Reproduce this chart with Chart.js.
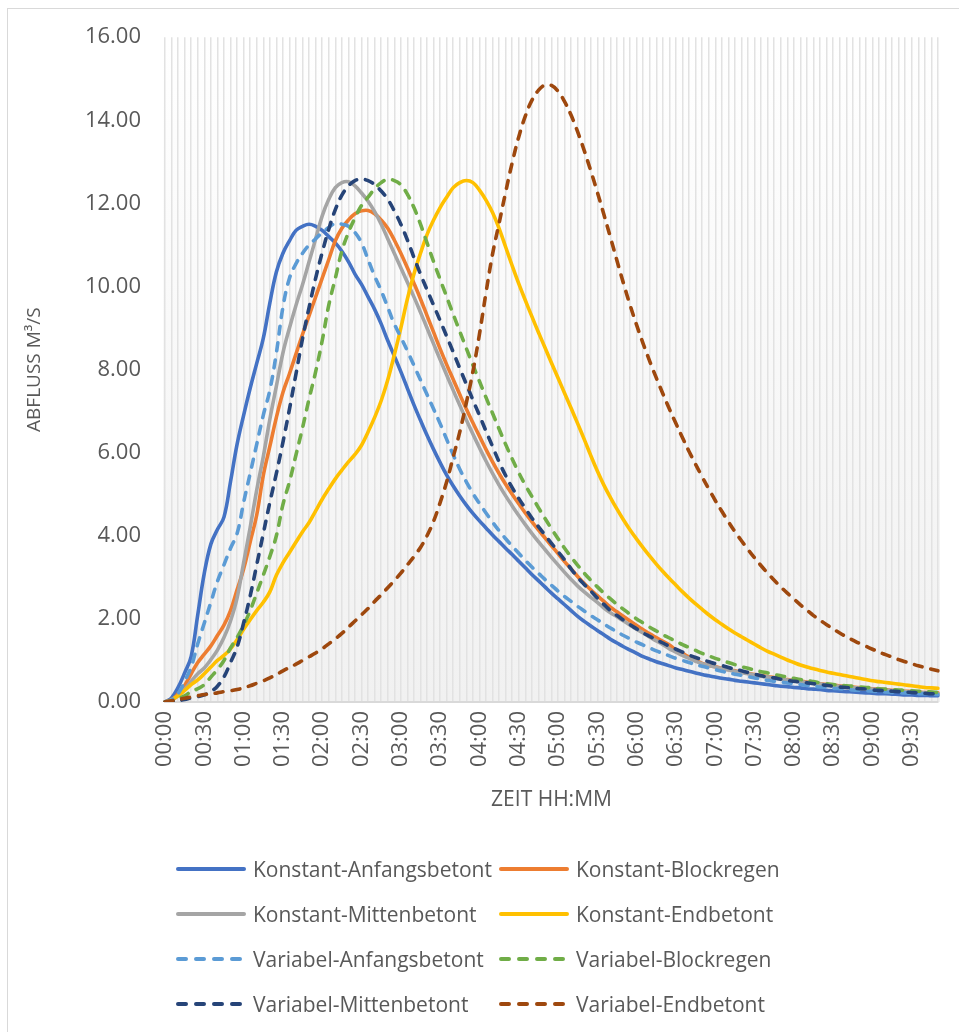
<!DOCTYPE html>
<html>
<head>
<meta charset="utf-8">
<script src="https://cdn.jsdelivr.net/npm/chart.js@4/dist/chart.umd.min.js"></script>
<style>
  html, body { margin:0; padding:0; background:#fff; overflow:hidden; }
  #wrap { position:relative; width:959px; height:1032px; }
  #frame { position:absolute; left:7px; top:8px; width:1000px; height:1100px; border:1px solid #d9d9d9; box-sizing:border-box; pointer-events:none; }
  canvas { position:absolute; left:0; top:0; }
  .lg { position:absolute; height:30px; line-height:30px; font-family:"Open Sans", sans-serif; font-size:21px; color:#595959; white-space:nowrap; }
  .lg svg { position:absolute; top:11px; }
</style>
</head>
<body>
<div id="wrap">
  <div id="frame"></div>
  <canvas id="c" width="959" height="1032"></canvas>
  <div id="legend"></div>
</div>
<script>
const categories = [
"00:00","00:05","00:10","00:15","00:20","00:25","00:30","00:35","00:40","00:45","00:50","00:55",
"01:00","01:05","01:10","01:15","01:20","01:25","01:30","01:35","01:40","01:45","01:50","01:55",
"02:00","02:05","02:10","02:15","02:20","02:25","02:30","02:35","02:40","02:45","02:50","02:55",
"03:00","03:05","03:10","03:15","03:20","03:25","03:30","03:35","03:40","03:45","03:50","03:55",
"04:00","04:05","04:10","04:15","04:20","04:25","04:30","04:35","04:40","04:45","04:50","04:55",
"05:00","05:05","05:10","05:15","05:20","05:25","05:30","05:35","05:40","05:45","05:50","05:55",
"06:00","06:05","06:10","06:15","06:20","06:25","06:30","06:35","06:40","06:45","06:50","06:55",
"07:00","07:05","07:10","07:15","07:20","07:25","07:30","07:35","07:40","07:45","07:50","07:55",
"08:00","08:05","08:10","08:15","08:20","08:25","08:30","08:35","08:40","08:45","08:50","08:55",
"09:00","09:05","09:10","09:15","09:20","09:25","09:30","09:35","09:40","09:45","09:50"];

const tickLabels = ["00:00","00:30","01:00","01:30","02:00","02:30","03:00","03:30","04:00","04:30",
"05:00","05:30","06:00","06:30","07:00","07:30","08:00","08:30","09:00","09:30"];

const konstantAnfang = [
0,0.1,0.35,0.7,1.1,2.1,3.1,3.8,4.15,4.45,
5.3,6.2,6.9,7.55,8.15,8.75,9.6,10.35,10.8,11.1,
11.35,11.45,11.5,11.45,11.35,11.2,11.05,10.85,10.6,10.3,
10.05,9.75,9.45,9.1,8.7,8.33,7.95,7.55,7.15,6.78,
6.42,6.08,5.76,5.46,5.2,4.96,4.74,4.54,4.36,4.19,
4.02,3.86,3.7,3.55,3.39,3.23,3.07,2.92,2.77,2.62,
2.48,2.34,2.2,2.06,1.94,1.83,1.72,1.62,1.51,1.42,
1.33,1.25,1.17,1.09,1.03,0.97,0.92,0.87,0.82,0.78,
0.74,0.7,0.66,0.63,0.6,0.57,0.55,0.52,0.5,0.48,
0.46,0.44,0.42,0.4,0.38,0.37,0.35,0.34,0.32,0.31,
0.3,0.28,0.27,0.26,0.25,0.24,0.23,0.22,0.21,0.2,
0.2,0.19,0.18,0.17,0.17,0.16,0.16,0.15,0.15];

const konstantBlock = [
0,0.05,0.2,0.4,0.68,0.95,1.15,1.35,1.6,1.85,
2.2,2.7,3.2,3.85,4.5,5.45,6.15,6.85,7.45,7.9,
8.38,8.85,9.3,9.75,10.2,10.65,11.1,11.4,11.6,11.75,
11.82,11.83,11.75,11.6,11.4,11.12,10.8,10.45,10.08,9.7,
9.3,8.9,8.5,8.12,7.76,7.4,7.05,6.72,6.4,6.08,
5.78,5.5,5.24,5.0,4.77,4.55,4.34,4.14,3.95,3.76,
3.57,3.38,3.2,3.02,2.85,2.7,2.56,2.42,2.28,2.17,
2.06,1.95,1.84,1.74,1.64,1.55,1.46,1.37,1.25,1.17,
1.08,1.0,0.93,0.88,0.85,0.81,0.78,0.75,0.72,0.69,
0.66,0.64,0.61,0.59,0.56,0.54,0.52,0.5,0.48,0.46,
0.44,0.42,0.41,0.39,0.37,0.36,0.35,0.33,0.32,0.31,
0.3,0.28,0.27,0.26,0.25,0.24,0.23,0.23,0.22];

const konstantMitte = [
0,0.05,0.15,0.3,0.5,0.68,0.82,1.02,1.25,1.55,
1.95,2.5,3.35,4.2,5.1,5.9,6.8,7.6,8.4,9.0,
9.55,10.05,10.6,11.15,11.7,12.1,12.38,12.5,12.52,12.42,
12.25,12.05,11.8,11.5,11.15,10.8,10.45,10.1,9.75,9.38,
9.0,8.62,8.24,7.87,7.5,7.14,6.79,6.45,6.12,5.8,
5.5,5.22,4.96,4.72,4.49,4.27,4.06,3.86,3.67,3.48,
3.3,3.12,2.95,2.79,2.65,2.52,2.4,2.26,2.15,2.05,
1.95,1.85,1.75,1.66,1.56,1.47,1.38,1.28,1.2,1.12,
1.05,0.98,0.92,0.88,0.84,0.8,0.77,0.74,0.71,0.68,
0.65,0.62,0.6,0.57,0.55,0.53,0.51,0.49,0.47,0.45,
0.43,0.41,0.39,0.38,0.36,0.35,0.33,0.32,0.31,0.3,
0.29,0.27,0.26,0.25,0.24,0.23,0.22,0.21,0.2];

const konstantEnd = [
0,0.05,0.15,0.28,0.42,0.53,0.68,0.84,1.0,1.12,
1.28,1.5,1.75,1.98,2.2,2.4,2.65,3.05,3.35,3.6,
3.85,4.1,4.32,4.6,4.88,5.13,5.37,5.58,5.78,5.96,
6.18,6.5,6.85,7.25,7.75,8.35,9.0,9.7,10.3,10.8,
11.25,11.6,11.9,12.15,12.38,12.5,12.55,12.5,12.32,12.08,
11.78,11.4,10.95,10.5,10.07,9.67,9.28,8.9,8.53,8.16,
7.8,7.43,7.07,6.7,6.32,5.93,5.56,5.22,4.92,4.64,
4.38,4.14,3.92,3.71,3.51,3.32,3.14,2.97,2.81,2.65,
2.5,2.36,2.23,2.1,1.98,1.87,1.76,1.66,1.57,1.48,
1.39,1.3,1.22,1.15,1.08,1.01,0.95,0.89,0.84,0.8,
0.76,0.72,0.69,0.66,0.63,0.6,0.57,0.54,0.51,0.49,
0.47,0.45,0.43,0.41,0.39,0.37,0.35,0.34,0.33];

const variabelAnfang = [
0,0.05,0.2,0.5,0.85,1.4,1.9,2.4,2.9,3.3,
3.7,4.05,4.8,5.5,6.2,6.9,7.5,8.4,9.5,10.2,
10.55,10.8,11.0,11.15,11.3,11.42,11.52,11.5,11.45,11.3,
11.05,10.65,10.25,9.9,9.5,9.1,8.78,8.45,8.1,7.75,
7.4,7.05,6.7,6.32,5.95,5.6,5.3,5.02,4.78,4.55,
4.33,4.12,3.93,3.75,3.58,3.41,3.25,3.1,2.95,2.81,
2.67,2.54,2.42,2.3,2.19,2.08,1.98,1.88,1.78,1.69,
1.6,1.52,1.44,1.37,1.3,1.23,1.17,1.11,1.05,1.0,
0.95,0.9,0.86,0.82,0.78,0.74,0.7,0.67,0.64,0.61,
0.58,0.55,0.52,0.5,0.48,0.46,0.44,0.42,0.4,0.38,
0.36,0.35,0.33,0.32,0.31,0.29,0.28,0.27,0.26,0.25,
0.24,0.23,0.22,0.22,0.21,0.2,0.2,0.19,0.18];

const variabelBlock = [
0,0.02,0.08,0.15,0.25,0.32,0.42,0.6,0.78,1.0,
1.3,1.55,1.85,2.2,2.62,3.05,3.5,4.0,4.75,5.3,
5.95,6.6,7.3,7.95,8.7,9.55,10.2,10.85,11.3,11.65,
11.95,12.15,12.35,12.5,12.58,12.55,12.45,12.22,11.9,11.5,
11.05,10.6,10.17,9.75,9.33,8.92,8.51,8.11,7.72,7.33,
6.95,6.57,6.2,5.85,5.52,5.22,4.95,4.68,4.42,4.17,
3.93,3.7,3.49,3.29,3.1,2.93,2.77,2.62,2.48,2.35,
2.23,2.11,2.0,1.9,1.8,1.71,1.62,1.54,1.46,1.38,
1.31,1.24,1.17,1.11,1.05,1.0,0.95,0.9,0.85,0.81,
0.77,0.73,0.7,0.66,0.63,0.6,0.57,0.54,0.52,0.49,
0.46,0.44,0.42,0.41,0.39,0.38,0.36,0.35,0.34,0.32,
0.31,0.3,0.29,0.28,0.27,0.26,0.25,0.24,0.23];

const variabelMitte = [
0,0.01,0.03,0.06,0.1,0.13,0.17,0.25,0.38,0.6,
0.95,1.32,1.9,2.55,3.3,4.05,4.8,5.5,6.25,7.05,
7.9,8.75,9.5,10.2,10.82,11.38,11.85,12.2,12.42,12.55,
12.58,12.55,12.45,12.3,12.1,11.82,11.5,11.12,10.7,10.3,
9.92,9.55,9.18,8.8,8.42,8.03,7.65,7.27,6.9,6.52,
6.15,5.78,5.45,5.16,4.9,4.66,4.43,4.22,4.02,3.82,
3.62,3.42,3.2,3.0,2.83,2.67,2.5,2.35,2.2,2.08,
1.97,1.86,1.76,1.66,1.58,1.5,1.42,1.34,1.27,1.2,
1.13,1.07,1.02,0.97,0.92,0.88,0.83,0.79,0.75,0.71,
0.67,0.63,0.6,0.58,0.55,0.52,0.5,0.48,0.46,0.44,
0.42,0.4,0.38,0.36,0.35,0.33,0.32,0.31,0.29,0.28,
0.27,0.26,0.25,0.24,0.23,0.22,0.21,0.2,0.2];

const variabelEnd = [
0,0.03,0.06,0.09,0.12,0.15,0.18,0.2,0.22,0.25,
0.27,0.3,0.34,0.39,0.45,0.51,0.58,0.66,0.75,0.83,
0.91,1.0,1.09,1.18,1.28,1.4,1.52,1.65,1.8,1.95,
2.1,2.25,2.42,2.58,2.75,2.92,3.1,3.3,3.5,3.72,
4.0,4.35,4.8,5.3,5.9,6.5,7.2,7.95,8.85,9.85,
10.78,11.52,12.27,12.98,13.6,14.1,14.48,14.72,14.85,14.84,
14.7,14.45,14.12,13.72,13.27,12.78,12.27,11.73,11.18,10.62,
10.07,9.55,9.07,8.62,8.2,7.8,7.42,7.05,6.7,6.36,
6.03,5.72,5.42,5.13,4.85,4.59,4.34,4.1,3.88,3.67,
3.47,3.28,3.1,2.93,2.77,2.62,2.48,2.34,2.21,2.08,
1.97,1.86,1.76,1.66,1.57,1.49,1.41,1.34,1.27,1.2,
1.14,1.08,1.02,0.97,0.92,0.87,0.83,0.79,0.75];

const seriesNames = ["Konstant-Anfangsbetont","Konstant-Blockregen","Konstant-Mittenbetont","Konstant-Endbetont",
"Variabel-Anfangsbetont","Variabel-Blockregen","Variabel-Mittenbetont","Variabel-Endbetont"];
const seriesValues = [konstantAnfang, konstantBlock, konstantMitte, konstantEnd,
variabelAnfang, variabelBlock, variabelMitte, variabelEnd];
const seriesColors = ["#4472C4","#ED7D31","#A5A5A5","#FFC000","#5B9BD5","#70AD47","#264478","#9E480E"];
const seriesDashed = [false,false,false,false,true,true,true,true];
const yTicks = [0,2,4,6,8,10,12,14,16];

const FONT = "'Open Sans', sans-serif";
const TXT = "#595959";

const datasets = seriesNames.map((name, i) => ({
  label: name,
  data: seriesValues[i],
  borderColor: seriesColors[i],
  backgroundColor: seriesColors[i],
  borderWidth: 3.6,
  borderDash: seriesDashed[i] ? [8, 9] : [],
  borderCapStyle: 'round',
  borderJoinStyle: 'round',
  pointRadius: 0,
  pointHoverRadius: 0,
  tension: 0.4,
  fill: false,
  order: seriesNames.length - i
}));

const plotBg = {
  id: 'plotBg',
  beforeDraw(chart) {
    const {ctx, chartArea: a} = chart;
    const g = ctx.createLinearGradient(0, a.top, 0, a.bottom);
    g.addColorStop(0, '#ffffff');
    g.addColorStop(1, '#f1f1f1');
    ctx.save();
    ctx.fillStyle = g;
    ctx.fillRect(a.left - 2, a.top, a.right - a.left + 4, a.bottom - a.top);
    ctx.restore();
  }
};

new Chart(document.getElementById('c'), {
  type: 'line',
  data: { labels: categories, datasets },
  plugins: [plotBg],
  options: {
    responsive: false,
    devicePixelRatio: 1,
    animation: false,
    events: [],
    layout: { padding: { left: 0, right: 21, top: 37, bottom: 202 } },
    plugins: { legend: { display: false }, tooltip: { enabled: false } },
    scales: {
      x: {
        type: 'category',
        offset: false,
        grid: { display: true, color: '#e2e2e2', lineWidth: 1.5, drawTicks: false, drawOnChartArea: true },
        border: { display: true, color: '#d9d9d9', width: 2 },
        ticks: {
          autoSkip: false, minRotation: 90, maxRotation: 90, padding: 9,
          color: TXT, font: { family: FONT, size: 22 },
          callback: function(v, idx) { const l = categories[idx]; return tickLabels.includes(l) ? l : ''; }
        },
        title: { display: true, text: 'ZEIT HH:MM', color: TXT, font: { family: FONT, size: 21 }, padding: { top: 0, bottom: 17 } },
        afterFit(scale) { scale.height = 128; scale.paddingLeft = 0; scale.paddingRight = 0; }
      },
      y: {
        min: 0, max: 16,
        afterBuildTicks(scale) { scale.ticks = yTicks.map(v => ({ value: v })); },
        grid: { display: false, drawTicks: false },
        border: { display: false },
        ticks: { padding: 24, color: TXT, font: { family: FONT, size: 22 }, callback: v => Number(v).toFixed(2) },
        title: { display: true, text: 'ABFLUSS M³/S', color: TXT, font: { family: FONT, size: 19 }, padding: { top: 23, bottom: 0 } },
        afterFit(scale) { scale.width = 165; }
      }
    }
  }
});

// HTML legend (two columns)
const legendPos = [[175,869],[498,869],[175,914],[498,914],[175,959],[498,959],[175,1004],[498,1004]];
const lg = document.getElementById('legend');
seriesNames.forEach((name, i) => {
  const [x, y] = legendPos[i];
  const d = document.createElement('div');
  d.className = 'lg';
  d.style.left = x + 'px';
  d.style.top = (y - 15) + 'px';
  d.style.paddingLeft = '78px';
  const dash = seriesDashed[i] ? 'stroke-dasharray="8 10"' : '';
  d.innerHTML = '<svg width="72" height="8" style="left:0"><line x1="3" y1="4" x2="69" y2="4" stroke="' + seriesColors[i] +
    '" stroke-width="4" stroke-linecap="round" ' + dash + '/></svg>';
  d.appendChild(document.createTextNode(name));
  lg.appendChild(d);
});
</script>
</body>
</html>
